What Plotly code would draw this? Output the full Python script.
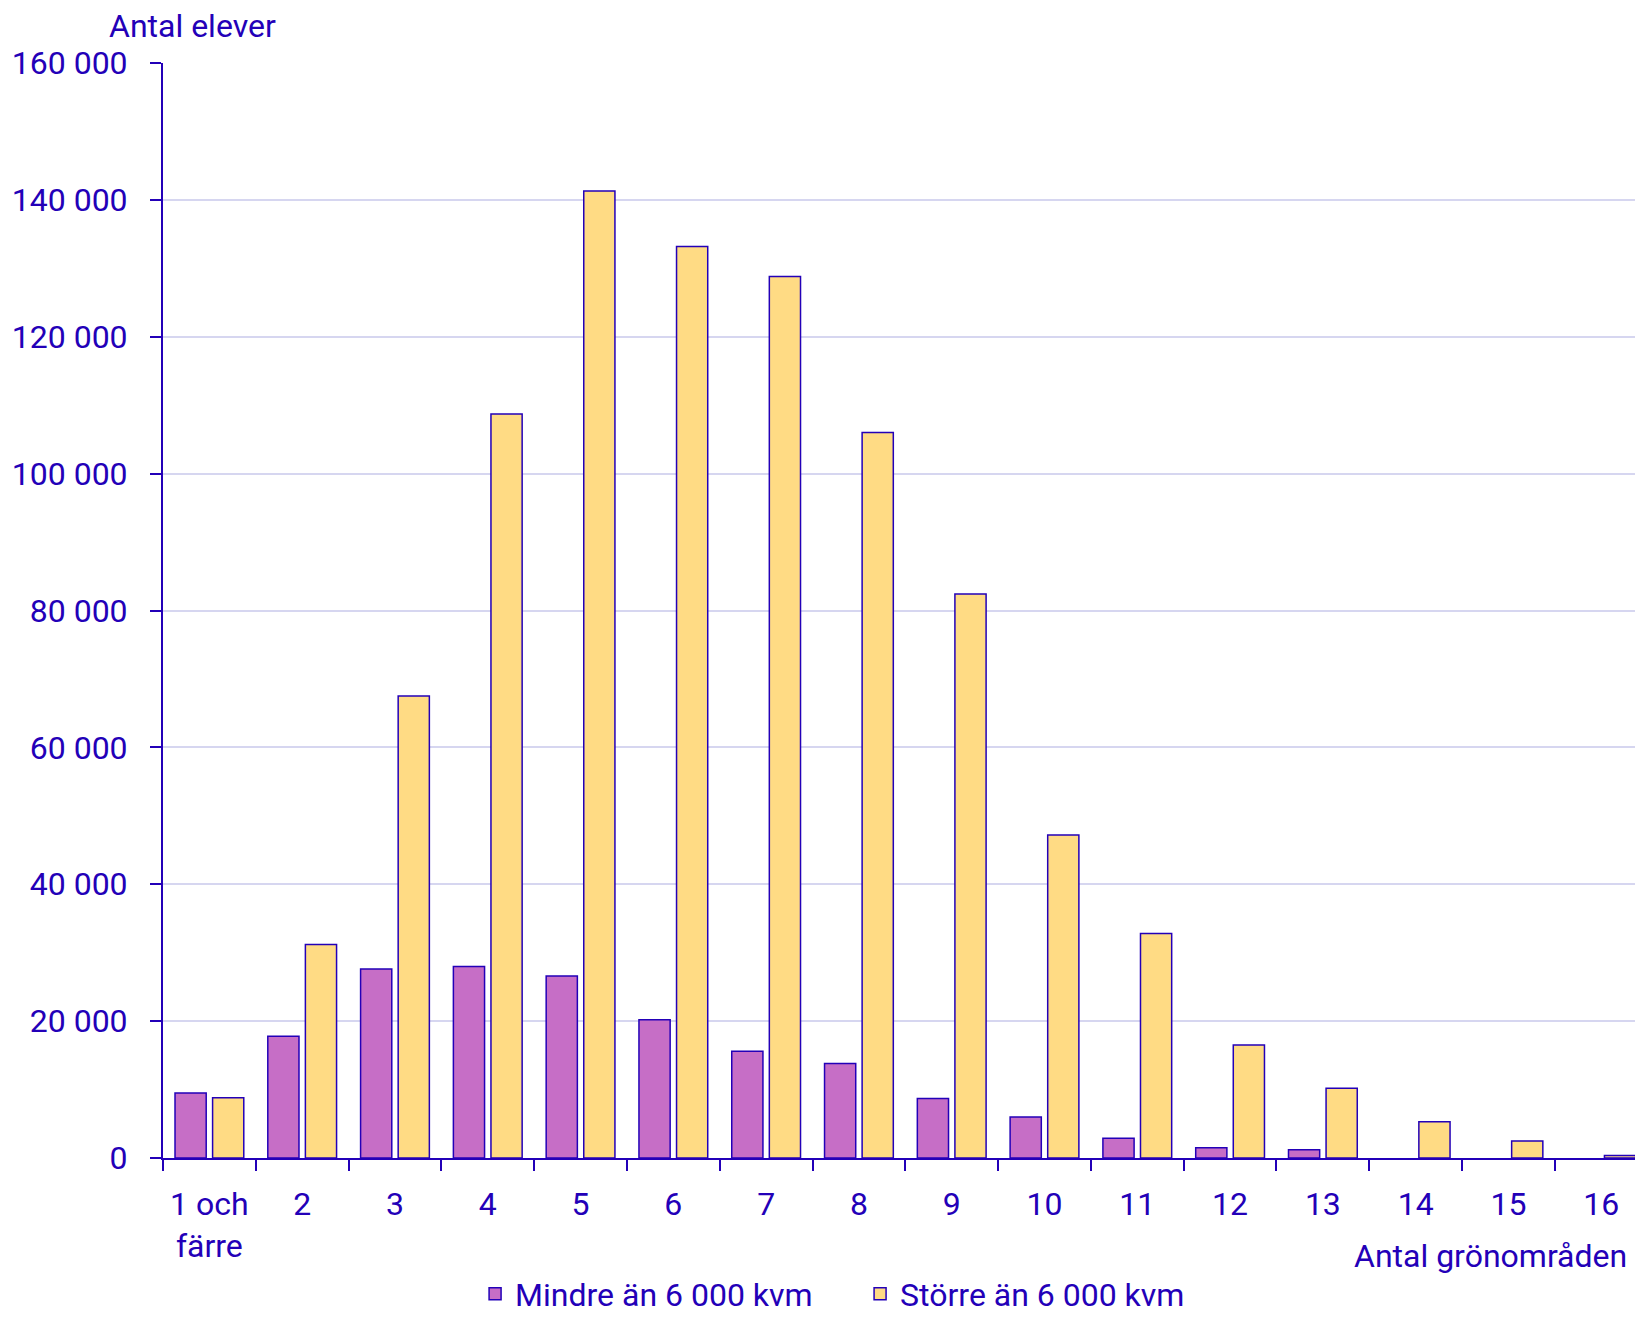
import plotly.graph_objects as go

TEXT = "#2300B8"
PURPLE = "#C66EC6"
YELLOW = "#FFDB84"
GRID = "#D6D6F0"
FONT = "Roboto, sans-serif"

categories = ["1 och<br>färre", "2", "3", "4", "5", "6", "7", "8",
              "9", "10", "11", "12", "13", "14", "15", "16"]
mindre = [9500, 17800, 27600, 28000, 26600, 20200, 15600, 13800,
          8700, 6000, 2900, 1500, 1200, None, None, None]
storre = [8800, 31200, 67500, 108700, 141300, 133200, 128800, 106000,
          82400, 47200, 32800, 16500, 10200, 5300, 2500, 350]

fig = go.Figure()
fig.add_trace(go.Bar(
    x=categories, y=mindre, name="Mindre än 6 000 kvm",
    marker=dict(color=PURPLE, line=dict(color=TEXT, width=1.5)),
))
fig.add_trace(go.Bar(
    x=categories, y=storre, name="Större än 6 000 kvm",
    marker=dict(color=YELLOW, line=dict(color=TEXT, width=1.5)),
))

# page body has an 8px margin, so the figure is sized to fit the window
fig.update_layout(
    width=1635, height=1311,
    paper_bgcolor="white", plot_bgcolor="white",
    margin=dict(l=155, r=0, t=55, b=161, autoexpand=False),
    font=dict(family=FONT, size=32, color=TEXT),
    barmode="group", bargap=0.19, bargroupgap=0.17,
    showlegend=True,
    legend=dict(
        orientation="h", x=0.471, xanchor="center",
        y=-0.099, yanchor="top", entrywidth=340,
        font=dict(size=32, color=TEXT), itemclick=False,
    ),
    annotations=[
        dict(text="Antal elever", xref="paper", yref="paper",
             x=-0.038, y=1.034, xanchor="left", yanchor="middle",
             showarrow=False, font=dict(size=32, color=TEXT)),
        dict(text="Antal grönområden", xref="paper", yref="paper",
             x=0.9905, y=-0.0895, xanchor="right", yanchor="middle",
             showarrow=False, font=dict(size=32, color=TEXT)),
    ],
)

fig.update_xaxes(
    range=[-0.5, 15.45], showgrid=False, showline=True, automargin=False,
    linecolor=TEXT, linewidth=2,
    ticks="outside", tickson="boundaries", ticklen=11, tickwidth=2,
    tickcolor=TEXT, tickfont=dict(size=32, color=TEXT),
    ticklabelstandoff=17,
)
fig.update_yaxes(
    range=[0, 160000], tickvals=list(range(0, 160001, 20000)),
    ticktext=["0", "20 000", "40 000", "60 000", "80 000", "100 000",
              "120 000", "140 000", "160 000"],
    showgrid=True, gridcolor=GRID, gridwidth=2, zeroline=False,
    showline=True, linecolor=TEXT, linewidth=2, automargin=False,
    ticks="outside", ticklen=11, tickwidth=2, tickcolor=TEXT,
    tickfont=dict(size=32, color=TEXT), ticklabelstandoff=16,
)

fig.write_html("out.html")
